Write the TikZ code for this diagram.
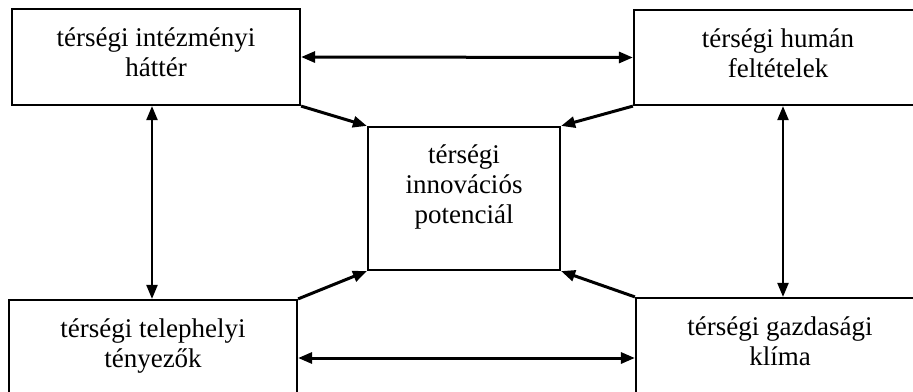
\documentclass[tikz,border=0pt]{standalone}
\usepackage{fontspec}
\setmainfont{Liberation Serif}
\usetikzlibrary{arrows.meta,positioning}

\begin{document}
\begin{tikzpicture}[x=1pt,y=-1pt,
  doboz/.style={draw=black,line width=2.2pt,inner sep=0pt},
  szoveg/.style={inner sep=0pt,align=center,font=\fontsize{27}{30}\selectfont},
  tip/.style={-{Triangle[length=14pt,width=11pt]}},
  ketiranyu/.style={{Triangle[length=14pt,width=11pt]}-{Triangle[length=14pt,width=11pt]}}]
\useasboundingbox (0,0) rectangle (913,391);
% dobozok
\node [doboz,minimum width=288pt,minimum height=96pt] (int) at (156,57) {};
\node [doboz,minimum width=288pt,minimum height=95pt] (hum) at (778,57.5) {};
\node [doboz,minimum width=288pt,minimum height=96pt] (tel) at (153,348) {};
\node [doboz,minimum width=288pt,minimum height=96pt] (gaz) at (780,346) {};
\node [doboz,minimum width=192pt,minimum height=143pt] (pot) at (464,198.5) {};
% feliratok
\node [szoveg,below=20pt of int.north] {térségi intézményi\\háttér};
\node [szoveg,below=20pt of hum.north] {térségi humán\\feltételek};
\node [szoveg,below=20pt of tel.north] {térségi telephelyi\\tényezők};
\node [szoveg,below=20pt of gaz.north] {térségi gazdasági\\klíma};
\node [szoveg,below=19pt of pot.north] {térségi\\innovációs\\potenciál};
% kapcsolatok
\draw [ketiranyu,line width=3pt] (int.east) -- (hum.west);
\draw [ketiranyu,line width=3pt] ([yshift=-10pt]tel.east) -- ([yshift=-12pt]gaz.west);
\draw [ketiranyu,line width=2.2pt] ([xshift=-4pt]int.south) -- ([xshift=-1pt]tel.north);
\draw [ketiranyu,line width=2.2pt] ([xshift=5pt]hum.south) -- ([xshift=3pt]gaz.north);
\draw [tip,line width=3pt] (int.south east) -- (pot.north west);
\draw [tip,line width=3pt] (hum.south west) -- (pot.north east);
\draw [tip,line width=3pt] (tel.north east) -- (pot.south west);
\draw [tip,line width=3pt] (gaz.north west) -- (pot.south east);
\end{tikzpicture}
\end{document}
